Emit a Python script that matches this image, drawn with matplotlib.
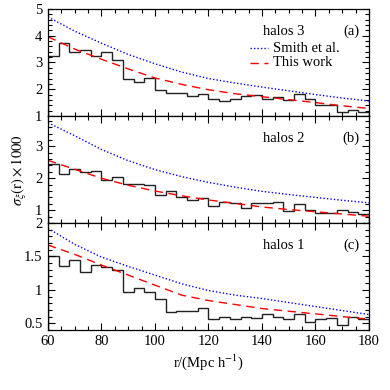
import numpy as np
import matplotlib
matplotlib.use('Agg')
import matplotlib.pyplot as plt
from matplotlib.ticker import MultipleLocator, FormatStrFormatter

plt.rcParams['font.family'] = ['Liberation Serif', 'DejaVu Serif']
plt.rcParams['mathtext.fontset'] = 'stix'

# bin edges of the measured histograms (Mpc/h)
edges = np.arange(60, 184, 4)

# measured sigma_xi(r) x 1000, one value per bin
hist_a = [3.25, 3.74, 3.38, 3.46, 3.23, 3.38, 3.10, 2.38, 2.27, 2.41,
          1.96, 1.85, 1.84, 1.74, 1.81, 1.64, 1.56, 1.64, 1.74, 1.80,
          1.65, 1.70, 1.61, 1.82, 1.64, 1.40, 1.42, 1.15, 1.22, 1.15]
hist_b = [2.46, 2.14, 2.30, 2.20, 2.23, 1.94, 2.04, 1.81, 1.81, 1.78,
          1.48, 1.61, 1.40, 1.33, 1.39, 1.12, 1.26, 1.22, 1.08, 1.21,
          1.22, 1.25, 0.98, 1.20, 1.02, 0.92, 0.90, 0.99, 0.94, 0.87]
hist_c = [1.51, 1.35, 1.45, 1.26, 1.37, 1.34, 1.30, 0.96, 1.02, 0.96,
          0.87, 0.67, 0.68, 0.69, 0.73, 0.57, 0.60, 0.56, 0.59, 0.58,
          0.64, 0.60, 0.57, 0.64, 0.52, 0.57, 0.58, 0.48, 0.60, 0.56]

r_model = [60, 70, 80, 90, 100, 110, 120, 130, 140, 150, 160, 170, 180]
smith_a = [4.70, 4.17, 3.72, 3.30, 2.95, 2.64, 2.40, 2.23, 2.08, 1.94, 1.80, 1.67, 1.56]
work_a = [3.96, 3.50, 3.12, 2.76, 2.42, 2.18, 1.98, 1.83, 1.72, 1.61, 1.50, 1.38, 1.28]
smith_b = [3.74, 3.33, 2.90, 2.55, 2.27, 2.05, 1.87, 1.72, 1.59, 1.49, 1.40, 1.31, 1.23]
work_b = [2.56, 2.28, 2.00, 1.78, 1.60, 1.45, 1.32, 1.21, 1.10, 1.02, 0.95, 0.88, 0.81]
smith_c = [1.92, 1.68, 1.49, 1.35, 1.22, 1.09, 0.99, 0.92, 0.87, 0.81, 0.75, 0.69, 0.63]
work_c = [1.67, 1.53, 1.37, 1.22, 1.07, 0.92, 0.84, 0.78, 0.72, 0.68, 0.64, 0.60, 0.56]

names = ['halos 3', 'halos 2', 'halos 1']
tags = ['(a)', '(b)', '(c)']
ylims = [(1, 5), (0.6, 3.95), (0.4, 2.0)]
ymajor = [1, 1, 0.5]
yminor = [0.2, 0.2, 0.1]

fig = plt.figure(figsize=(3.9, 3.9), dpi=100)
axes = fig.subplots(3, 1, sharex=True)
fig.subplots_adjust(left=0.123, right=0.946, top=0.977, bottom=0.154, hspace=0)

panels = [(hist_a, smith_a, work_a), (hist_b, smith_b, work_b), (hist_c, smith_c, work_c)]
for i, ax in enumerate(axes):
    hist, smith, work = panels[i]
    ax.plot(r_model, smith, color='blue', ls=(0, (1, 1.5)), lw=1.0)
    ax.plot(r_model, work, color='red', ls=(0, (6, 4)), lw=1.0)
    ax.stairs(hist, edges, color='#222222', lw=1.0)

    ax.set_xlim(60, 180)
    ax.set_ylim(*ylims[i])
    ax.xaxis.set_major_locator(MultipleLocator(20))
    ax.xaxis.set_minor_locator(MultipleLocator(5))
    ax.yaxis.set_major_locator(MultipleLocator(ymajor[i]))
    ax.yaxis.set_minor_locator(MultipleLocator(yminor[i]))
    ax.yaxis.set_major_formatter(FormatStrFormatter('%g'))
    ax.tick_params(which='both', direction='in', top=True, right=True, labelsize=10.5)
    ax.tick_params(which='major', length=5, width=0.8, pad=4)
    ax.tick_params(which='minor', length=2.8, width=0.8)
    for s in ax.spines.values():
        s.set_linewidth(0.9)

    ax.text(0.67, 0.79, names[i], transform=ax.transAxes, fontsize=10.5, va='center', ha='left')
    ax.text(0.972, 0.79, tags[i], transform=ax.transAxes, fontsize=10.5, va='center', ha='right')

# legend in the top panel
ax = axes[0]
ax.plot([0.63, 0.685], [0.635, 0.635], transform=ax.transAxes, color='blue', ls=(0, (1, 1.5)), lw=1.0)
ax.plot([0.63, 0.685], [0.495, 0.495], transform=ax.transAxes, color='red', ls=(0, (6, 4)), lw=1.0)
ax.text(0.70, 0.635, 'Smith et al.', transform=ax.transAxes, fontsize=10.5, va='center')
ax.text(0.70, 0.495, 'This work', transform=ax.transAxes, fontsize=10.5, va='center')

axes[2].set_xlabel(r'r/(Mpc h$^{-1}$)', fontsize=10.5, labelpad=3)
fig.text(0.05, 0.565, r'$\sigma_\xi(\mathrm{r})\times1000$', rotation=90, fontsize=10.5,
         ha='center', va='center')

fig.savefig('out.png', dpi=100)
